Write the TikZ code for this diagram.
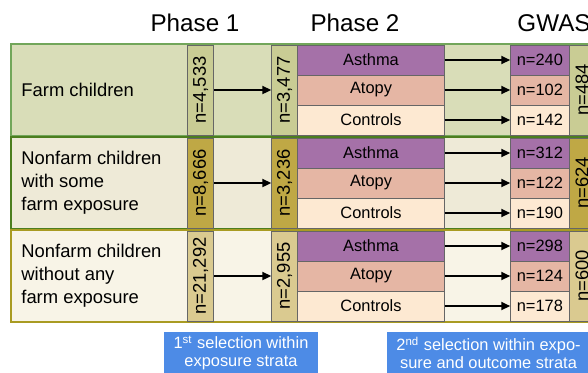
\documentclass[tikz,border=0pt]{standalone}
\usepackage{fontspec}
\setmainfont{Liberation Sans}
\usetikzlibrary{arrows.meta}
\definecolor{bandA}{HTML}{D9DDB8}
\definecolor{bandB}{HTML}{EEEAD7}
\definecolor{bandC}{HTML}{F8F4E7}
\definecolor{lineA}{HTML}{72A65A}
\definecolor{lineB}{HTML}{4C7E1E}
\definecolor{lineC}{HTML}{A99B22}
\definecolor{nA}{HTML}{C9CC94}
\definecolor{nB}{HTML}{BFA845}
\definecolor{nC}{HTML}{DACA90}
\definecolor{asthma}{HTML}{A571A8}
\definecolor{atopy}{HTML}{E5B6A4}
\definecolor{controls}{HTML}{FDE9D2}
\definecolor{selblue}{HTML}{4D8BE6}
\tikzset{
    %Define standard arrow tip
    >={Triangle[length=4.5pt,width=4pt]},
    bandbox/.style={line width=1pt},
    nbox/.style={draw=black!60, line width=.4pt, rotate=90, inner sep=0pt,
        minimum width=45pt, minimum height=13pt, font=\fontsize{9.2}{11}\selectfont},
    catbox/.style={draw=black!60, line width=.4pt, inner sep=0pt,
        minimum width=73.3pt, minimum height=15pt, font=\fontsize{8.2}{10}\selectfont},
    gbox/.style={catbox, minimum width=29.2pt},
    lab/.style={anchor=west, align=left, inner sep=0pt, font=\fontsize{9.2}{11.5}\selectfont},
    phase/.style={font=\fontsize{12.1}{14}\selectfont},
    selbox/.style={fill=selblue, text=white, align=center, inner sep=0pt,
        minimum height=21pt, font=\fontsize{8.2}{9}\selectfont},
    flow/.style={->, line width=1pt}
}
\begin{document}
\begin{tikzpicture}[x=0.5pt,y=-0.5pt]
    \useasboundingbox (0,0) rectangle (588,372);
    \clip (0,0) rectangle (588,372);
    \node[phase] (ph1) at (195,23) {Phase 1};
    \node[phase] (ph2) at (355,23) {Phase 2};
    \node[phase] (gwas) at (554,23) {GWAS};
    \foreach \k/\y/\cl/\nc/\txt/\na/\nb/\nt/\ga/\gb/\gc in {
        1/44/A/nA/{Farm children}/{4,533}/{3,477}/484/240/102/142,
        2/137/B/nB/{Nonfarm children\\with some\\farm exposure}/{8,666}/{3,236}/624/312/122/190,
        3/230/C/nC/{Nonfarm children\\without any\\farm exposure}/{21,292}/{2,955}/600/298/124/178}{
        \pgfmathsetmacro\c{\y+46}
        \draw[bandbox, draw=line\cl, fill=band\cl] (11,\y) rectangle (620,\y+92);
        \node[lab] (lab\k) at (21,\c) {\txt};
        \node[nbox, fill=\nc] (p1\k) at (200.7,\c) {n=\na};
        \node[nbox, fill=\nc] (p2\k) at (284.7,\c) {n=\nb};
        \node[nbox, fill=\nc] (tot\k) at (582,\c) {n=\nt};
        \draw[flow] (p1\k) -- (p2\k);
        \foreach \r/\lab/\col/\g in {0/Asthma/asthma/\ga,1/Atopy/atopy/\gb,2/Controls/controls/\gc}{
            \node[catbox, fill=\col] (cat\k\r) at (371,\y+16+30*\r) {\lab};
            \node[gbox, fill=\col] (gw\k\r) at (539.85,\y+16+30*\r) {n=\g};
            \draw[flow] (cat\k\r) -- (gw\k\r);
        }
    }
    \node[selbox, minimum width=77pt] (sel1) at (241,353)
        {1\textsuperscript{st} selection within\\exposure strata};
    \node[selbox, minimum width=101.5pt] (sel2) at (488.5,353)
        {2\textsuperscript{nd} selection within expo-\\sure and outcome strata};
\end{tikzpicture}
\end{document}
